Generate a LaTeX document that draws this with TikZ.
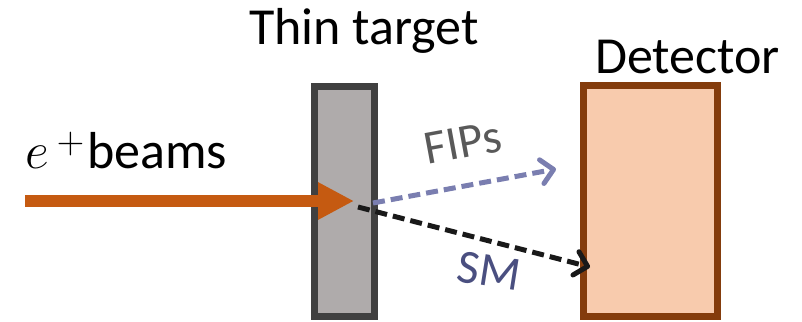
\RequirePackage{fix-cm}
\documentclass[tikz,border=0pt]{standalone}
\usepackage{fontspec}
\setmainfont{Carlito}
\usetikzlibrary{arrows.meta}
\definecolor{tgtfill}{HTML}{AFABAB}
\definecolor{tgtdraw}{HTML}{404040}
\definecolor{detfill}{HTML}{F8CBAD}
\definecolor{detdraw}{HTML}{843C0C}
\definecolor{beamcol}{HTML}{C55A11}
\definecolor{fipcol}{RGB}{122,126,176}
\definecolor{fiptext}{HTML}{595959}
\definecolor{smtext}{RGB}{74,79,128}
\tikzset{
  bigtext/.style={font=\fontsize{52}{60}\selectfont, inner sep=0pt},
  labtext/.style={font=\fontsize{48}{56}\selectfont, inner sep=0pt},
  slab/.style={draw, line width=7pt, inner sep=0pt, minimum width=60pt},
  particle/.style={line width=5pt, dash pattern=on 12pt off 6pt,
    -{Straight Barb[length=12pt,width=24pt,line width=5pt,round]}},
}
\begin{document}
\begin{tikzpicture}[x=1pt,y=-1pt]
\useasboundingbox (0,0) rectangle (802,321);
% target and detector
\node[slab, fill=tgtfill, draw=tgtdraw, minimum width=60pt, minimum height=230pt] (target) at (344,201) {};
\node[slab, fill=detfill, draw=detdraw, minimum width=134pt, minimum height=231pt] (detector) at (650.5,201) {};
% titles
\node[bigtext, anchor=base] (ttl) at (364,45) {Thin target};
\node[bigtext, anchor=base] (dtl) at (687.5,73) {Detector};
\node[bigtext, anchor=base west] (bml) at (25,168) {$e$\hspace{8pt}\raisebox{14.5pt}{\fontsize{38}{38}\selectfont$+$}\hspace{3pt}beams};
% beam
\coordinate (bstart) at (25,201);
\coordinate (btip) at (354,201);
\draw[beamcol, line width=12pt, -{Triangle[length=36pt,width=35pt]}] (bstart) -- (btip);
% particles
\coordinate (fstart) at (373,203);
\coordinate (fend) at (556,169);
\coordinate (sstart) at (358,207);
\coordinate (send) at (590,267);
\draw[particle, fipcol] (fstart) -- (fend);
\draw[particle, black!90] (sstart) -- (send);
\node[labtext, text=fiptext, rotate=10.5] (fips) at (463,143) {FIPs};
\node[labtext, text=smtext, rotate=-9] (sm) at (489,271) {SM};
\end{tikzpicture}
\end{document}
